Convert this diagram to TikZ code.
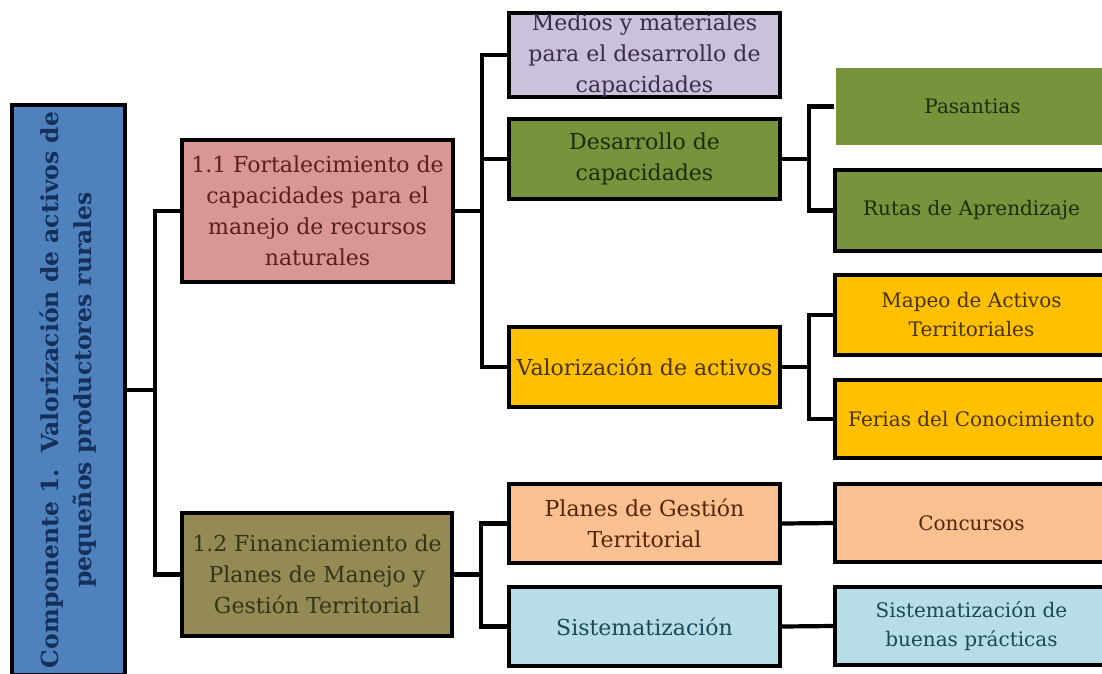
\documentclass[tikz,border=0pt]{standalone}
\usepackage{fontspec}
\setmainfont{DejaVu Serif}
\usetikzlibrary{positioning}

\definecolor{compblue}{HTML}{4F81BD}
\definecolor{compink}{HTML}{14305A}
\definecolor{rosa}{HTML}{D99694}
\definecolor{rosaink}{HTML}{5A1E1D}
\definecolor{oliva}{HTML}{948A54}
\definecolor{olivaink}{HTML}{35321A}
\definecolor{lila}{HTML}{CCC1DA}
\definecolor{lilaink}{HTML}{3A2C4C}
\definecolor{verde}{HTML}{77933C}
\definecolor{verdeink}{HTML}{1A2E0C}
\definecolor{oro}{HTML}{FFC000}
\definecolor{oroink}{HTML}{4A3300}
\definecolor{durazno}{HTML}{FAC090}
\definecolor{duraznoink}{HTML}{552508}
\definecolor{celeste}{HTML}{B7DEE8}
\definecolor{celesteink}{HTML}{1A4856}

\begin{document}
\begin{tikzpicture}[x=1pt,y=-1pt]
\tikzstyle{box} = [draw,line width=4.2pt,align=center,inner sep=0pt,minimum width=271,font=\fontsize{22}{31}\selectfont]
\tikzstyle{leaf} = [box,minimum width=273,font=\fontsize{20}{29}\selectfont]
\tikzstyle{wire} = [line width=4.2pt]

\useasboundingbox (0,0) rectangle (1102,673);

\node[box, rotate=90, fill=compblue, text=compink, minimum width=570, minimum height=113, font=\bfseries\fontsize{23.5}{33}\selectfont] (comp) at (68.5,390) {Componente 1.\ \ Valorización de activos de\\pequeños productores rurales};

\node[box, fill=rosa, text=rosaink, minimum height=142] (f11) at (317.5,211) {1.1 Fortalecimiento de\\capacidades para el\\manejo de recursos\\naturales};
\node[box, fill=oliva, text=olivaink, minimum width=270, minimum height=123] (f12) at (317,574.5) {1.2 Financiamiento de\\Planes de Manejo y\\Gestión Territorial};

\node[box, fill=lila, text=lilaink, minimum height=80] (medios) at (644.5,55) {Medios y materiales\\para el desarrollo de\\capacidades};
\node[box, fill=verde, text=verdeink, minimum height=80] (desarr) at (644.5,159) {Desarrollo de\\capacidades};
\node[box, fill=oro, text=oroink, minimum height=80] (valor) at (644.5,367) {Valorización de activos};
\node[box, fill=durazno, text=duraznoink, minimum height=79] (planes) at (644.5,523.5) {Planes de Gestión\\Territorial};
\node[box, fill=celeste, text=celesteink, minimum height=79] (sistem) at (644.5,626.5) {Sistematización};

\node[leaf, draw=none, fill=verde, text=verdeink, minimum height=77] (pasant) at (972.5,106.5) {Pasantias};
\node[leaf, fill=verde, text=verdeink, minimum height=81] (rutas) at (971.5,210.5) {Rutas de Aprendizaje};
\node[leaf, fill=oro, text=oroink, minimum height=80] (mapeo) at (971.5,315) {Mapeo de Activos\\Territoriales};
\node[leaf, fill=oro, text=oroink, minimum height=78] (ferias) at (971.5,419) {Ferias del Conocimiento};
\node[leaf, fill=durazno, text=duraznoink, minimum height=78] (concur) at (971.5,523) {Concursos};
\node[leaf, fill=celeste, text=celesteink, minimum height=78] (buenas) at (971.5,626) {Sistematización de\\buenas prácticas};

\foreach \t in {f11, f12} {
\draw[wire] (comp.south) -- ++(28,0) |- (\t.west);
}
\foreach \t in {medios, desarr, valor} {
\draw[wire] (f11.east) -- ++(27,0) |- (\t.west);
}
\foreach \t in {planes, sistem} {
\draw[wire] (f12.east) -- ++(27,0) |- (\t.west);
}
\foreach \t in {pasant, rutas} {
\draw[wire] (desarr.east) -- ++(27,0) |- (\t.west);
}
\foreach \t in {mapeo, ferias} {
\draw[wire] (valor.east) -- ++(27,0) |- (\t.west);
}
\draw[wire] (planes.east) -- (concur.west);
\draw[wire] (sistem.east) -- (buenas.west);

\end{tikzpicture}
\end{document}
